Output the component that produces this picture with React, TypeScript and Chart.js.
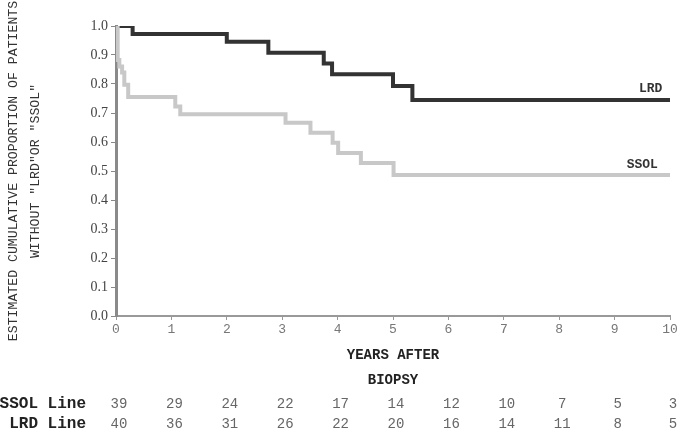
import React, { useEffect, useRef } from "react";
import { Chart, registerables } from "chart.js";

Chart.register(...registerables);

// Kaplan-Meier step data (years after biopsy, estimated proportion)
const lrdTimes = [0, 0.3, 2.0, 2.75, 3.75, 3.9, 5.0, 5.35, 10];
const lrdSurvival = [1.0, 0.972, 0.946, 0.908, 0.871, 0.834, 0.793, 0.745, 0.745];
const ssolTimes = [0, 0.03, 0.06, 0.11, 0.15, 0.22, 1.07, 1.16, 3.06, 3.51, 3.91, 4.01, 4.42, 5.01, 10];
const ssolSurvival = [1.0, 0.883, 0.86, 0.84, 0.797, 0.755, 0.722, 0.696, 0.666, 0.632, 0.597, 0.562, 0.528, 0.486, 0.486];

const yearTicks = [0, 1, 2, 3, 4, 5, 6, 7, 8, 9, 10];
const ssolAtRisk = [39, 29, 24, 22, 17, 14, 12, 10, 7, 5, 3];
const lrdAtRisk = [40, 36, 31, 26, 22, 20, 16, 14, 11, 8, 5];

const seriesNames = ["LRD", "SSOL"];
const atRiskRowLabels = ["SSOL Line", "LRD Line"];
const yAxisTitle = ["ESTIMATED CUMULATIVE PROPORTION OF PATIENTS", "WITHOUT \"LRD\"OR \"SSOL\""];
const xAxisTitle = ["YEARS AFTER", "BIOPSY"];

const MONO = "'Liberation Mono', 'Courier New', monospace";
const SERIF = "'Liberation Serif', 'Times New Roman', serif";

const annotationsPlugin = {
  id: "kmAnnotations",
  afterDraw(chart: any) {
    const { ctx } = chart;
    const xs = chart.scales.x;
    const ys = chart.scales.y;
    ctx.save();
    // curve labels
    ctx.font = `bold 13px ${MONO}`;
    ctx.fillStyle = "#333";
    ctx.textAlign = "center";
    ctx.textBaseline = "middle";
    const lrdLast = lrdSurvival[lrdSurvival.length - 1];
    const ssolLast = ssolSurvival[ssolSurvival.length - 1];
    ctx.fillText(seriesNames[0], xs.getPixelForValue(9.65), ys.getPixelForValue(lrdLast) - 11);
    ctx.fillText(seriesNames[1], xs.getPixelForValue(9.5), ys.getPixelForValue(ssolLast) - 10);

    // at-risk table
    const rows = [ssolAtRisk, lrdAtRisk];
    const rowY = [404, 424];
    rows.forEach((vals, r) => {
      ctx.font = `bold 16px ${MONO}`;
      ctx.fillStyle = "#222";
      ctx.textAlign = "right";
      ctx.fillText(atRiskRowLabels[r], 86, rowY[r]);
      ctx.font = `14px ${MONO}`;
      ctx.fillStyle = "#666";
      ctx.textAlign = "center";
      vals.forEach((v, i) => {
        ctx.fillText(String(v), xs.getPixelForValue(yearTicks[i]) + 3, rowY[r]);
      });
    });
    ctx.restore();
  },
};

export default function App() {
  const canvasRef = useRef<HTMLCanvasElement | null>(null);

  useEffect(() => {
    document.body.style.margin = "0";
    const canvas = canvasRef.current;
    if (!canvas) return;
    const chart = new Chart(canvas, {
      type: "line",
      data: {
        datasets: [
          {
            label: seriesNames[1],
            data: ssolTimes.map((t, i) => ({ x: t, y: ssolSurvival[i] })),
            borderColor: "#c8c8c8",
            borderWidth: 4,
            stepped: true,
            pointRadius: 0,
            fill: false,
          },
          {
            label: seriesNames[0],
            data: lrdTimes.map((t, i) => ({ x: t, y: lrdSurvival[i] })),
            borderColor: "#333333",
            borderWidth: 4,
            stepped: true,
            pointRadius: 0,
            fill: false,
          },
        ],
      },
      options: {
        responsive: true,
        maintainAspectRatio: false,
        animation: false,
        layout: { padding: { top: 26, right: 15, left: 0, bottom: 0 } },
        plugins: {
          legend: { display: false },
          tooltip: { enabled: false },
        },
        scales: {
          x: {
            type: "linear",
            min: 0,
            max: 10,
            afterBuildTicks: (scale: any) => {
              scale.ticks = yearTicks.map((v) => ({ value: v }));
            },
            afterFit: (scale: any) => {
              scale.height = 115;
            },
            ticks: {
              font: { family: MONO, size: 13 },
              color: "#777",
              padding: 2,
              maxRotation: 0,
              autoSkip: false,
            },
            grid: {
              drawOnChartArea: false,
              tickLength: 4,
              color: "#999",
            },
            border: { color: "#999", width: 2 },
            title: {
              display: true,
              text: xAxisTitle,
              font: { family: MONO, size: 14, weight: "bold", lineHeight: 1.8 },
              color: "#222",
              padding: { top: 0, bottom: 38 },
            },
          },
          y: {
            type: "linear",
            min: 0,
            max: 1,
            afterFit: (scale: any) => {
              scale.width = 116;
            },
            ticks: {
              stepSize: 0.1,
              font: { family: SERIF, size: 14 },
              color: "#444",
              padding: 3,
              callback: (v: any) => Number(v).toFixed(1),
            },
            grid: {
              drawOnChartArea: false,
              tickLength: 5,
              color: "#888",
            },
            border: { color: "#8a8a8a", width: 3 },
            title: {
              display: true,
              text: yAxisTitle,
              font: { family: MONO, size: 13.2, lineHeight: 1.7 },
              color: "#333",
              padding: { top: 2, bottom: 0 },
            },
          },
        },
      },
      plugins: [annotationsPlugin],
    } as any);
    return () => chart.destroy();
  }, []);

  return (
    <div style={{ position: "relative", width: 685, height: 431, background: "#fff" }}>
      <canvas ref={canvasRef} />
    </div>
  );
}
